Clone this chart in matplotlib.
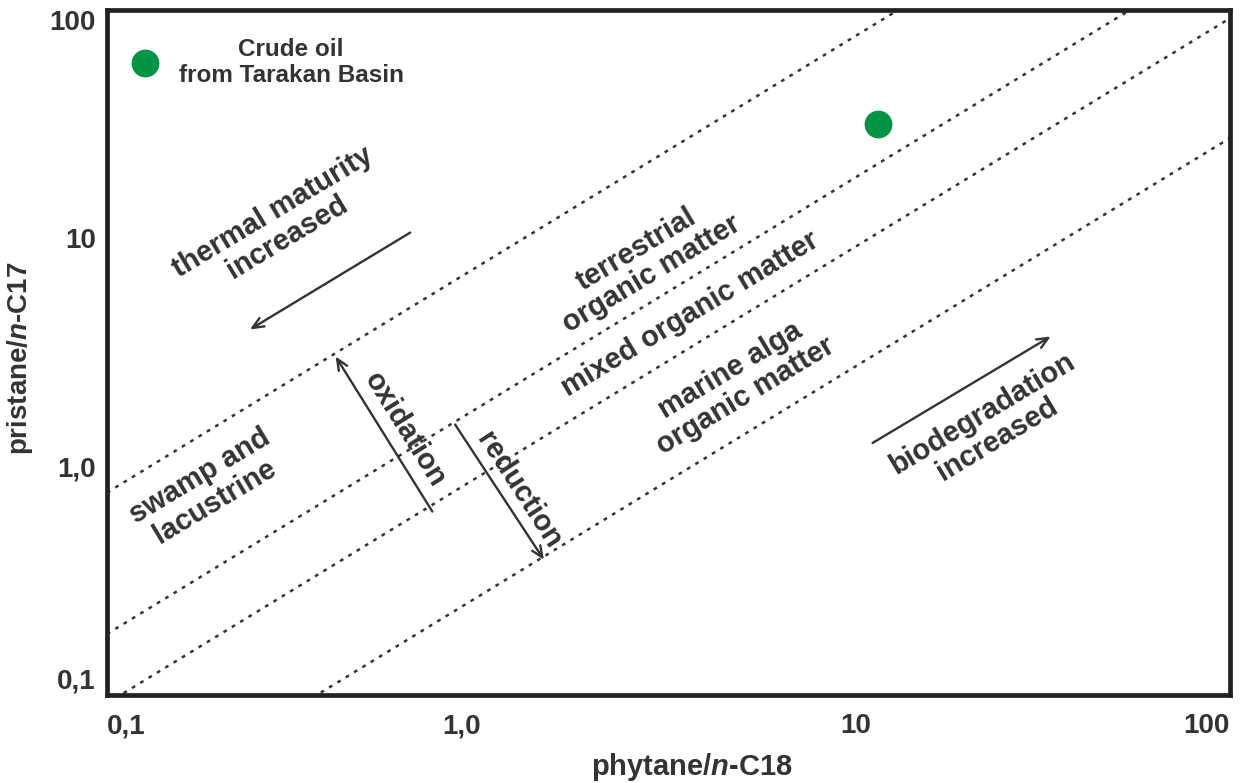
import matplotlib
matplotlib.use("Agg")
import matplotlib.pyplot as plt
import numpy as np

plt.rcParams['font.family'] = ['Liberation Sans', 'DejaVu Sans']
plt.rcParams['font.weight'] = 'bold'
plt.rcParams['axes.labelweight'] = 'bold'
plt.rcParams['mathtext.fontset'] = 'custom'
plt.rcParams['mathtext.it'] = 'Liberation Sans:italic:bold'
plt.rcParams['mathtext.rm'] = 'Liberation Sans:bold'

INK = '#333333'
GREEN = '#009444'

# boundary lines  pristane/n-C17 = k * phytane/n-C18
line_k = [7.7, 1.85, 0.92, 0.275]
x_ends = [0.1, 100]

# sample (crude oil from Tarakan Basin)
sample_x = [11.5]
sample_y = [31.6]

tick_vals = [0.1, 1, 10, 100]
tick_text = ['0,1', '1,0', '10', '100']

# region labels: text, x, y, rotation
labels = [
    ('thermal maturity\nincreased', 0.29, 11.5, 31),
    ('terrestrial\norganic matter', 2.72, 7.9, 31),
    ('mixed organic matter', 3.62, 4.64, 31),
    ('marine alga\norganic matter', 4.85, 2.32, 31),
    ('biodegradation\nincreased', 22.8, 1.50, 31),
    ('swamp and\nlacustrine', 0.185, 0.80, 31),
    ('oxidation', 0.627, 1.45, -58),
    ('reduction', 1.256, 0.79, -57),
]

# arrows: (start, end)
arrows = [
    ((0.646, 10.6), (0.241, 3.99)),
    ((0.74, 0.636), (0.408, 3.04)),
    ((0.851, 1.53), (1.47, 0.391)),
    ((11.1, 1.27), (33.2, 3.72)),
]

fig = plt.figure(figsize=(12.44, 7.83), dpi=100)
ax = fig.add_axes([0.086, 0.1124, 0.9027, 0.8748])
ax.set_xscale('log')
ax.set_yscale('log')
ax.set_xlim(0.1, 100)
ax.set_ylim(0.1, 100)

xe = np.array(x_ends)
for k in line_k:
    ax.plot(xe, k * xe, color=INK, lw=1.8, ls=(0, (1.5, 2.4)), zorder=1)

ax.plot(sample_x, sample_y, 'o', color=GREEN, ms=19, zorder=3)

# legend-like marker and text
ax.plot([0.0338], [0.923], 'o', color=GREEN, ms=19, transform=ax.transAxes, clip_on=False)
ax.text(0.164, 0.923, 'Crude oil\nfrom Tarakan Basin', transform=ax.transAxes,
        ha='center', va='center', fontsize=17.5, color=INK, linespacing=1.15)

for txt, x, y, rot in labels:
    ax.text(x, y, txt, ha='center', va='center', rotation=rot, rotation_mode='anchor',
            fontsize=21, color=INK, linespacing=1.05)

for (x0, y0), (x1, y1) in arrows:
    ax.annotate('', xy=(x1, y1), xytext=(x0, y0),
                arrowprops=dict(arrowstyle='->,head_length=0.8,head_width=0.35',
                                color=INK, lw=1.7, shrinkA=0, shrinkB=0))

for s in ax.spines.values():
    s.set_linewidth(3.4)
    s.set_color('#222222')

ax.minorticks_off()
ax.tick_params(length=0, labelsize=20, colors=INK)
ax.tick_params(axis='x', pad=13)
ax.tick_params(axis='y', pad=8)
ax.set_xticks(tick_vals)
ax.set_xticklabels(tick_text, fontweight='bold')
ax.set_yticks(tick_vals)
ax.set_yticklabels(tick_text, fontweight='bold')
xl = ax.get_xticklabels()
xl[0].set_ha('left')
xl[1].set_ha('right')
xl[-1].set_ha('right')
yl = ax.get_yticklabels()
yl[0].set_va('bottom')
yl[-1].set_va('top')

ax.set_xlabel('phytane/$\\it{n}$-C18', fontsize=21, color=INK, fontweight='bold')
ax.xaxis.set_label_coords(0.521, -0.082)
ax.set_ylabel('pristane/$\\it{n}$-C17', fontsize=20, color=INK, fontweight='bold')
ax.yaxis.set_label_coords(-0.064, 0.492)

fig.savefig('out.png', dpi=100)
